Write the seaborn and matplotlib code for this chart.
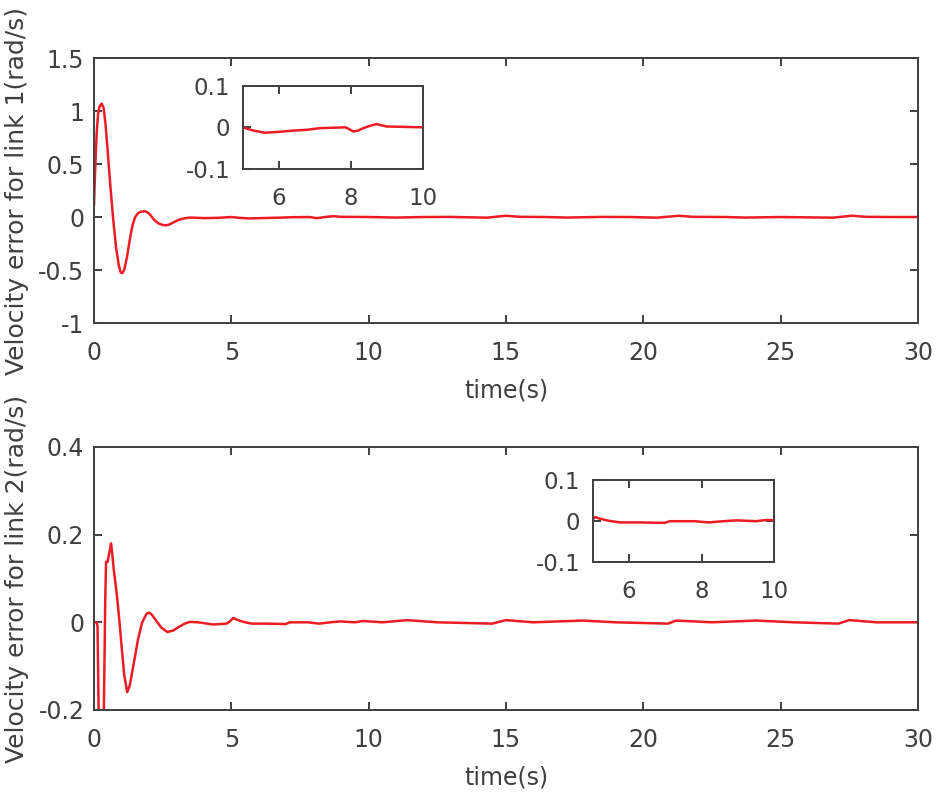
import numpy as np
import pandas as pd
import seaborn as sns
import matplotlib
matplotlib.use("Agg")
import matplotlib.pyplot as plt

# Link 1 velocity error
t_link1 = [0.0, 0.05, 0.1, 0.15, 0.2, 0.28, 0.35, 0.42, 0.5, 0.6, 0.7, 0.8, 0.9, 0.97,
           1.03, 1.1, 1.2, 1.3, 1.4, 1.5, 1.6, 1.7, 1.86, 1.95, 2.05, 2.2, 2.35, 2.5,
           2.62, 2.75, 2.9, 3.1, 3.3, 3.5, 4.0, 4.5, 5.0, 5.3, 5.62, 6.0, 6.4, 6.78,
           7.15, 7.5, 7.85, 7.95, 8.07, 8.2, 8.35, 8.55, 8.72, 8.85, 9.0, 9.5, 10.0,
           11.0, 12.0, 13.0, 14.3, 15.0, 15.5, 16.5, 17.2, 18.5, 19.5, 20.5, 21.3,
           21.8, 23.0, 23.7, 25.0, 26.9, 27.6, 28.1, 29.0, 30.0]
e_link1 = [0.11, 0.5, 0.8, 0.97, 1.04, 1.07, 1.03, 0.88, 0.62, 0.28, -0.02, -0.28, -0.45, -0.52,
           -0.53, -0.5, -0.38, -0.22, -0.08, 0.0, 0.035, 0.05, 0.055, 0.045, 0.02, -0.03, -0.06, -0.075,
           -0.078, -0.07, -0.05, -0.025, -0.012, -0.005, -0.01, -0.008, 0.0, -0.008, -0.013, -0.011, -0.008, -0.006,
           -0.002, -0.001, 0.0, -0.004, -0.01, -0.008, -0.002, 0.004, 0.008, 0.005, 0.002, 0.001, 0.0,
           -0.005, 0.0, 0.001, -0.006, 0.012, 0.002, 0.0, -0.005, 0.001, 0.0, -0.006, 0.012,
           0.002, 0.0, -0.005, 0.0, -0.006, 0.012, 0.002, 0.0, 0.0]

# Link 2 velocity error
t_link2 = [0.0, 0.1, 0.13, 0.19, 0.25, 0.31, 0.36, 0.41, 0.44, 0.5, 0.53, 0.58, 0.62, 0.66,
           0.72, 0.83, 0.93, 1.0, 1.1, 1.21, 1.3, 1.4, 1.49, 1.6, 1.74, 1.82, 1.92, 2.01,
           2.1, 2.25, 2.45, 2.67, 2.88, 3.1, 3.3, 3.49, 3.8, 4.34, 4.83, 4.95, 5.07, 5.2,
           5.44, 5.75, 6.3, 6.98, 7.13, 7.8, 8.2, 8.6, 8.96, 9.5, 9.8, 10.5, 11.4, 12.5,
           14.5, 15.0, 16.0, 17.8, 19.0, 20.9, 21.2, 22.5, 24.1, 25.5, 27.1, 27.5, 28.5, 30.0]
e_link2 = [0.0, 0.0, -0.01, -0.3, -0.45, -0.4, -0.2, 0.05, 0.138, 0.138, 0.15, 0.165, 0.18, 0.16,
           0.12, 0.065, 0.0, -0.05, -0.12, -0.159, -0.145, -0.11, -0.079, -0.04, -0.003, 0.008, 0.02, 0.022,
           0.018, 0.005, -0.012, -0.022, -0.019, -0.01, -0.003, 0.001, 0.0, -0.005, -0.003, 0.002, 0.01, 0.006,
           0.001, -0.003, -0.003, -0.004, 0.0, 0.0, -0.003, 0.0, 0.002, 0.0, 0.003, 0.0, 0.005, 0.0,
           -0.003, 0.005, 0.0, 0.004, 0.0, -0.003, 0.004, 0.0, 0.004, 0.0, -0.003, 0.005, 0.0, 0.0]

x_ticks = [0, 5, 10, 15, 20, 25, 30]
y_ticks_link1 = [-1, -0.5, 0, 0.5, 1, 1.5]
y_ticks_link2 = [-0.2, 0, 0.2, 0.4]
inset_xticks = [6, 8, 10]
inset_yticks = [-0.1, 0, 0.1]

sns.set_style("ticks")
plt.rcParams['font.family'] = ['DejaVu Sans']
plt.rcParams['axes.unicode_minus'] = False

GREY = '#3f3f3f'
RED = '#ec1c24'
plt.rcParams.update({
    'axes.edgecolor': GREY, 'axes.linewidth': 1.4,
    'xtick.color': GREY, 'ytick.color': GREY,
    'xtick.labelcolor': GREY, 'ytick.labelcolor': GREY,
    'text.color': GREY, 'axes.labelcolor': GREY,
    'xtick.direction': 'in', 'ytick.direction': 'in',
    'xtick.top': True, 'ytick.right': True,
    'xtick.major.size': 6, 'ytick.major.size': 6,
    'xtick.major.width': 1.4, 'ytick.major.width': 1.4,
})

df1 = pd.DataFrame({'t': t_link1, 'e': e_link1})
df2 = pd.DataFrame({'t': t_link2, 'e': e_link2})


def fmt(v):
    return f"{v:g}"


def style_axes(ax, xt, yt, size, xpad, ypad):
    ax.set_xticks(xt)
    ax.set_yticks(yt)
    ax.set_xticklabels([fmt(v) for v in xt], fontsize=size)
    ax.set_yticklabels([fmt(v) for v in yt], fontsize=size)
    ax.tick_params(axis='x', pad=xpad)
    ax.tick_params(axis='y', pad=ypad)
    for s in ax.spines.values():
        s.set_visible(True)


fig = plt.figure(figsize=(9.36, 7.99), dpi=100)

panels = [
    (df1, [0.1004, 0.5957, 0.8803, 0.3317], (-1, 1.5), y_ticks_link1,
     'Velocity error for link 1(rad/s)', [0.2593, 0.7889, 0.1923, 0.1035]),
    (df2, [0.1004, 0.1114, 0.8803, 0.3292], (-0.2, 0.4), y_ticks_link2,
     'Velocity error for link 2(rad/s)', [0.6332, 0.2962, 0.1940, 0.1030]),
]

for df, rect, ylim, yt, ylab, inset_rect in panels:
    ax = fig.add_axes(rect)
    sns.lineplot(data=df, x='t', y='e', ax=ax, color=RED, linewidth=1.8)
    ax.set_xlim(0, 30)
    ax.set_ylim(*ylim)
    style_axes(ax, x_ticks, yt, 17, 13, 7)
    ax.set_xlabel('time(s)', fontsize=17, labelpad=10)
    ax.set_ylabel(ylab, fontsize=18)
    ax.yaxis.set_label_coords(-0.079, 0.5)

    ins = fig.add_axes(inset_rect)
    sns.lineplot(data=df, x='t', y='e', ax=ins, color=RED, linewidth=1.8)
    ins.set_xlim(5, 10)
    ins.set_ylim(-0.1, 0.1)
    style_axes(ins, inset_xticks, inset_yticks, 16.5, 13, 9)
    ins.set_xlabel('')
    ins.set_ylabel('')

fig.savefig('out.png', dpi=100)
